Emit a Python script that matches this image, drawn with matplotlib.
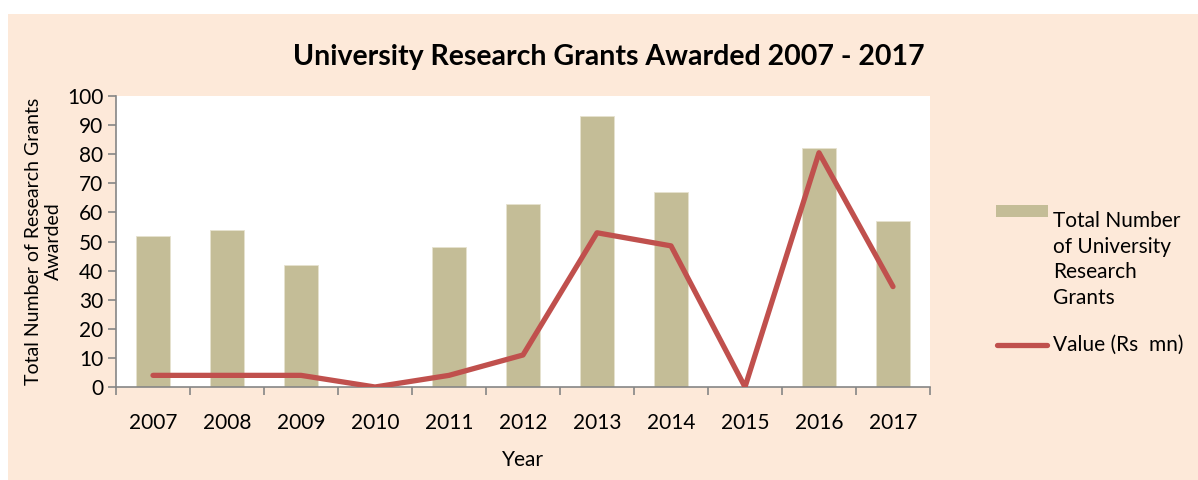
import numpy as np
import matplotlib.pyplot as plt
from matplotlib.patches import Rectangle
from matplotlib.lines import Line2D

years = ['2007', '2008', '2009', '2010', '2011', '2012', '2013', '2014', '2015', '2016', '2017']
grants = [52, 54, 42, 0, 48, 63, 93, 67, 0, 82, 57]
value_mn = [4, 4, 4, 0, 4, 11, 53, 48.5, 0, 80.5, 34.5]

bar_col = '#C4BD97'
line_col = '#C0504D'
peach = '#FDE9D9'
axis_col = '#868686'

plt.rcParams['font.family'] = ['Lato', 'DejaVu Sans']

fig = plt.figure(figsize=(11.98, 4.8), dpi=100)
fig.patch.set_facecolor('white')
fig.patches.append(Rectangle((8/1198, 0), 1 - 8/1198, 1 - 14/480,
                             transform=fig.transFigure, facecolor=peach,
                             edgecolor='none', zorder=-10))

ax = fig.add_axes([116/1198, 1 - 387/480, (930 - 116)/1198, (387 - 96)/480])
ax.set_facecolor('white')

x = np.arange(len(years))
ax.bar(x, grants, width=0.46, color=bar_col, edgecolor='#E6E2CF', linewidth=0.6, zorder=2)
ax.plot(x, value_mn, color=line_col, linewidth=3.8, solid_capstyle='round', zorder=3)

ax.set_xlim(-0.5, len(years) - 0.5)
ax.set_ylim(0, 100)
ax.set_yticks(np.arange(0, 101, 10))
ax.set_xticks(x)
ax.set_xticklabels(years)
ax.set_xticks(np.arange(-0.5, len(years), 1), minor=True)
ax.tick_params(axis='x', which='major', length=0, pad=19, labelsize=15)
ax.tick_params(axis='x', which='minor', length=6, color=axis_col, width=1.2, direction='out')
ax.tick_params(axis='y', length=6, color=axis_col, width=1.2, labelsize=15, pad=3)

for s in ['top', 'right']:
    ax.spines[s].set_visible(False)
for s in ['left', 'bottom']:
    ax.spines[s].set_color(axis_col)
    ax.spines[s].set_linewidth(1.2)

ax.set_xlabel('Year', fontsize=15, labelpad=12)
ax.set_ylabel('Total Number of Research Grants\nAwarded', fontsize=14, labelpad=4,
              linespacing=1.15)

fig.text(609/1198, 1 - 57/480, 'University Research Grants Awarded 2007 - 2017',
         ha='center', va='center', fontsize=20.5, fontweight='bold')

# legend drawn by hand so the swatch sits on the first text line
fig.patches.append(Rectangle((996/1198, 1 - 217/480), 52/1198, 12/480,
                             transform=fig.transFigure, facecolor=bar_col,
                             edgecolor='none'))
fig.text(1053/1198, 1 - 211/480, 'Total Number\nof University\nResearch\nGrants',
         ha='left', va='top', fontsize=15, linespacing=1.35,
         transform=fig.transFigure)
fig.lines.append(Line2D([997/1198, 1047/1198], [1 - 345/480, 1 - 345/480],
                        transform=fig.transFigure, color=line_col, linewidth=3.8,
                        solid_capstyle='round'))
fig.text(1053/1198, 1 - 345/480, 'Value (Rs  mn)', ha='left', va='center', fontsize=15)

fig.savefig('out.png', dpi=100, facecolor=fig.get_facecolor())
